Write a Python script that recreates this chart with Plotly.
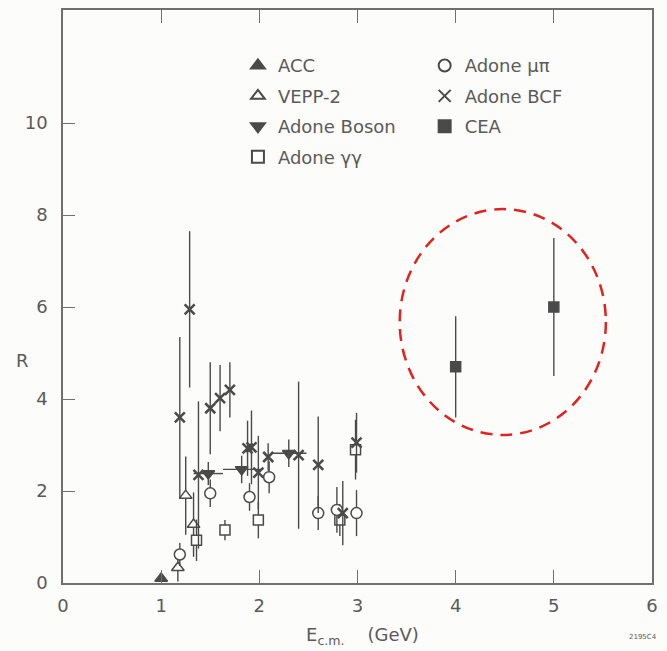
import plotly.graph_objects as go

# ---------------- data ----------------
acc_E = [1.0]
acc_R = [0.1]

vepp_E = [1.17, 1.25, 1.33]
vepp_R = [0.33, 1.9, 1.27]
vepp_err = [0.3, 0.85, 0.7]

boson_E = [1.48, 1.82, 2.30]
boson_R = [2.38, 2.47, 2.82]
boson_err = [0.25, 0.3, 0.3]
boson_xerr = [0.15, 0.19, 0.18]

gg_E = [1.36, 1.65, 1.99, 2.82, 2.98]
gg_R = [0.93, 1.15, 1.37, 1.37, 2.9]
gg_err = [0.45, 0.22, 0.4, 0.35, 0.65]

mupi_E = [1.19, 1.50, 1.90, 2.10, 2.60, 2.79, 2.99]
mupi_R = [0.62, 1.95, 1.87, 2.3, 1.52, 1.59, 1.52]
mupi_err = [0.25, 0.3, 0.3, 0.35, 0.37, 0.5, 0.5]

bcf_E = [1.19, 1.29, 1.38, 1.50, 1.60, 1.70, 1.88, 1.92, 1.99, 2.09, 2.40, 2.60, 2.85, 2.99]
bcf_R = [3.6, 5.95, 2.35, 3.8, 4.02, 4.2, 2.93, 2.95, 2.4, 2.74, 2.78, 2.57, 1.52, 3.05]
bcf_err = [1.75, 1.7, 1.6, 1.0, 0.72, 0.6, 0.6, 0.8, 0.8, 0.3, 1.6, 1.05, 0.7, 0.65]

cea_E = [4.0, 5.0]
cea_R = [4.7, 6.0]
cea_err = [1.1, 1.5]

x_ticks = [0, 1, 2, 3, 4, 5, 6]
x_ticktext = ["0", "1", "2", "3", "4", "5", "6"]
y_ticks = [0, 2, 4, 6, 8, 10]

# highlighted region (dashed ellipse) in data units
circle_x = [3.43, 5.53]
circle_y = [3.22, 8.13]

INK = "#4a4a4a"
AXIS = "#707070"
TXT = "#5a5a5a"
FONT = "DejaVu Sans"

fig = go.Figure()


def add(name, E, R, err, symbol, fill, legend, size, xerr=None, lw=1.5):
    fig.add_trace(go.Scatter(
        x=E, y=R, mode="markers", name=name, legend=legend, legendgroup=name,
        marker=dict(symbol=symbol, size=size, color=fill,
                    line=dict(color=INK, width=lw)),
        error_y=dict(type="data", array=err if err else [0] * len(E),
                     visible=err is not None, color=INK, thickness=1.4, width=0),
        error_x=dict(type="data", array=xerr if xerr else [0] * len(E),
                     visible=xerr is not None, color=INK, thickness=1.4, width=0),
    ))


add("ACC", acc_E, acc_R, None, "triangle-up", INK, "legend", 11)
add("VEPP-2", vepp_E, vepp_R, vepp_err, "triangle-up", "white", "legend", 11)
add("Adone Boson", boson_E, boson_R, boson_err, "triangle-down", INK, "legend", 11, xerr=boson_xerr)
add("Adone γγ", gg_E, gg_R, gg_err, "square", "white", "legend", 10)
add("Adone μπ", mupi_E, mupi_R, mupi_err, "circle", "white", "legend2", 11)
add("Adone BCF", bcf_E, bcf_R, bcf_err, "x-thin", INK, "legend2", 10, lw=2.5)
add("CEA", cea_E, cea_R, cea_err, "square", INK, "legend2", 10)

fig.add_shape(type="circle", xref="x", yref="y",
              x0=circle_x[0], x1=circle_x[1], y0=circle_y[0], y1=circle_y[1],
              line=dict(color="#e0231f", width=2.5, dash="12px,8px"))

legend_common = dict(
    xanchor="left", yanchor="top", bgcolor="rgba(0,0,0,0)",
    font=dict(family=FONT, size=18, color=TXT), tracegroupgap=4,
    itemsizing="constant",
)

fig.update_layout(
    width=667, height=651,
    margin=dict(l=63, r=15, t=10, b=68),
    paper_bgcolor="#fcfcfa", plot_bgcolor="#fcfcfa",
    font=dict(family=FONT, size=18, color=TXT),
    showlegend=True,
    legend=dict(x=0.297, y=0.935, **legend_common),
    legend2=dict(x=0.614, y=0.935, **legend_common),
    xaxis=dict(range=[0, 6], tickvals=x_ticks, ticktext=x_ticktext,
               ticks="inside", ticklen=13, tickwidth=1.3, tickcolor=AXIS,
               showline=True, linecolor=AXIS, linewidth=1.5, mirror="ticks",
               showgrid=False, zeroline=False, automargin=False,
               ticklabelstandoff=6,
               tickfont=dict(family=FONT, size=18, color=TXT)),
    yaxis=dict(range=[0, 12.46], tickvals=y_ticks,
               ticks="inside", ticklen=12, tickwidth=1.3, tickcolor=AXIS,
               showline=True, linecolor=AXIS, linewidth=1.5, mirror=True,
               showgrid=False, zeroline=False, automargin=False,
               ticklabelstandoff=10,
               tickfont=dict(family=FONT, size=18, color=TXT)),
    annotations=[
        dict(text="R", xref="paper", yref="paper", x=-0.0696, y=0.389,
             xanchor="center", yanchor="middle",
             showarrow=False, font=dict(family=FONT, size=18, color=TXT)),
        dict(text="E<sub>c.m.</sub>    (GeV)", xref="paper", yref="paper",
             x=0.508, y=-0.0925, xanchor="center", yanchor="middle",
             showarrow=False, font=dict(family=FONT, size=18, color=TXT)),
        dict(text="2195C4", xref="paper", yref="paper", x=0.985, y=-0.094,
             xanchor="center", yanchor="middle",
             showarrow=False, font=dict(family=FONT, size=7, color=TXT)),
    ],
)

fig.write_html("out.html", config={"displayModeBar": False},
               post_script="document.body.style.margin='0px';")
